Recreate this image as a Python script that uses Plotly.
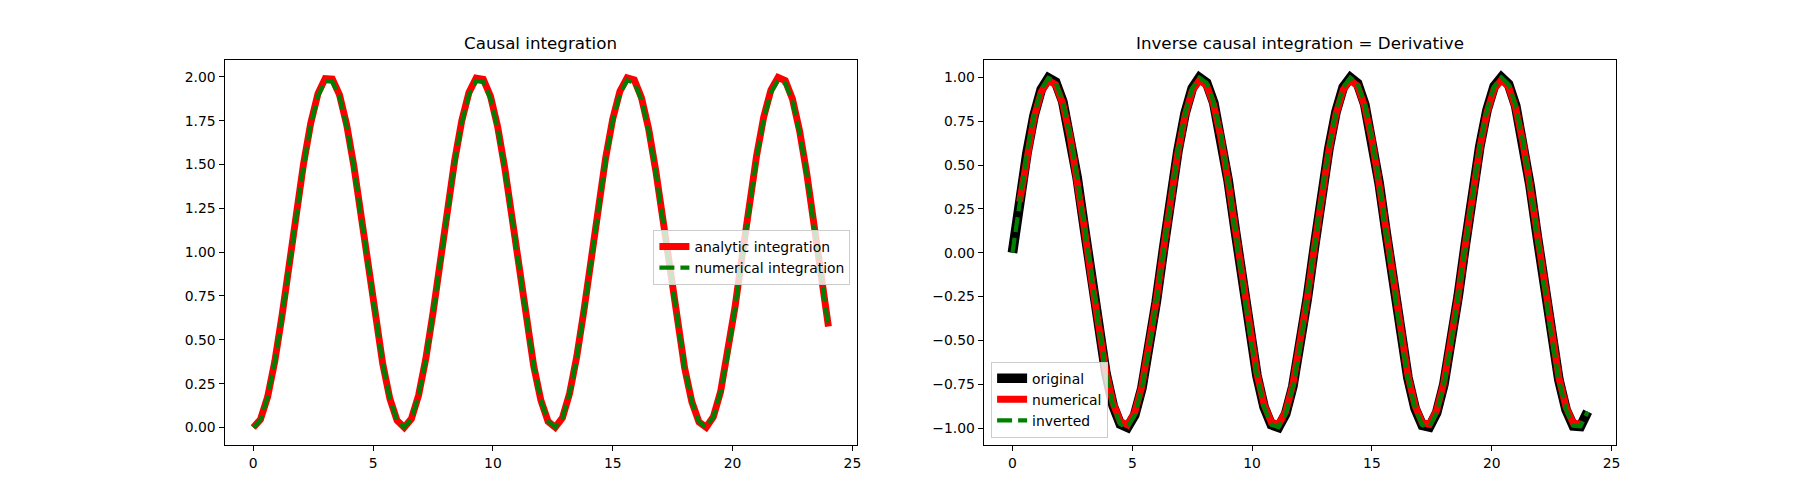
import plotly.graph_objects as go

# sample times
t = [0.0, 0.3, 0.6, 0.9, 1.2, 1.5, 1.8, 2.1, 2.4, 2.7, 3.0, 3.3, 3.6, 3.9, 4.2, 4.5, 4.8, 5.1, 5.4, 5.7,
     6.0, 6.3, 6.6, 6.9, 7.2, 7.5, 7.8, 8.1, 8.4, 8.7, 9.0, 9.3, 9.6, 9.9, 10.2, 10.5, 10.8, 11.1, 11.4, 11.7,
     12.0, 12.3, 12.6, 12.9, 13.2, 13.5, 13.8, 14.1, 14.4, 14.7, 15.0, 15.3, 15.6, 15.9, 16.2, 16.5, 16.8, 17.1,
     17.4, 17.7, 18.0, 18.3, 18.6, 18.9, 19.2, 19.5, 19.8, 20.1, 20.4, 20.7, 21.0, 21.3, 21.6, 21.9, 22.2, 22.5,
     22.8, 23.1, 23.4, 23.7, 24.0]

analytic_integration = [
    0.000, 0.045, 0.175, 0.378, 0.638, 0.929, 1.227, 1.505, 1.737, 1.904, 1.990, 1.987, 1.897, 1.726, 1.490,
    1.211, 0.912, 0.622, 0.365, 0.165, 0.040,
    0.000, 0.050, 0.184, 0.392, 0.653, 0.946, 1.244, 1.519, 1.749, 1.911, 1.992, 1.985, 1.889, 1.714, 1.476,
    1.194, 0.896, 0.607, 0.352, 0.156, 0.035,
    0.001, 0.055, 0.194, 0.405, 0.669, 0.963, 1.260, 1.534, 1.760, 1.918, 1.994, 1.982, 1.881, 1.702, 1.461,
    1.178, 0.879, 0.591, 0.340, 0.147, 0.031,
    0.001, 0.061, 0.204, 0.419, 0.685, 0.980, 1.276, 1.548, 1.771, 1.924, 1.996, 1.978, 1.873, 1.690, 1.446,
    1.161, 0.862, 0.576]

numerical_integration = [
    0.000, 0.045, 0.174, 0.375, 0.633, 0.922, 1.218, 1.494, 1.724, 1.890, 1.975, 1.972, 1.883, 1.713, 1.479,
    1.202, 0.905, 0.617, 0.362, 0.164, 0.040,
    0.000, 0.050, 0.183, 0.389, 0.648, 0.939, 1.235, 1.508, 1.736, 1.897, 1.977, 1.970, 1.875, 1.701, 1.465,
    1.185, 0.889, 0.602, 0.349, 0.155, 0.035,
    0.001, 0.055, 0.193, 0.402, 0.664, 0.956, 1.251, 1.522, 1.747, 1.904, 1.979, 1.967, 1.867, 1.689, 1.450,
    1.169, 0.872, 0.587, 0.337, 0.146, 0.031,
    0.001, 0.061, 0.202, 0.416, 0.680, 0.973, 1.266, 1.536, 1.758, 1.910, 1.981, 1.963, 1.859, 1.677, 1.435,
    1.152, 0.856, 0.572]

original = [
    0.000, 0.296, 0.565, 0.783, 0.932, 0.997, 0.974, 0.863, 0.675, 0.427, 0.141, -0.158, -0.443, -0.688,
    -0.872, -0.978, -0.996, -0.926, -0.773, -0.551, -0.279,
    0.017, 0.312, 0.578, 0.794, 0.938, 0.999, 0.970, 0.855, 0.663, 0.412, 0.124, -0.174, -0.458, -0.700,
    -0.880, -0.981, -0.995, -0.919, -0.762, -0.537, -0.263,
    0.034, 0.327, 0.592, 0.804, 0.944, 0.999, 0.966, 0.846, 0.650, 0.397, 0.108, -0.191, -0.472, -0.712,
    -0.888, -0.984, -0.993, -0.913, -0.751, -0.522, -0.247,
    0.050, 0.343, 0.606, 0.814, 0.949, 1.000, 0.961, 0.837, 0.637, 0.381, 0.091, -0.207, -0.487, -0.724,
    -0.895, -0.987, -0.990, -0.906]

# central differences: no value at the two end samples
numerical_derivative = [
    None, 0.291, 0.556, 0.772, 0.918, 0.983, 0.959, 0.850, 0.665, 0.421, 0.139, -0.155, -0.436, -0.678,
    -0.859, -0.963, -0.981, -0.912, -0.761, -0.542, -0.275,
    0.017, 0.307, 0.570, 0.782, 0.924, 0.984, 0.955, 0.842, 0.653, 0.406, 0.123, -0.172, -0.451, -0.689,
    -0.867, -0.966, -0.980, -0.906, -0.751, -0.529, -0.259,
    0.033, 0.323, 0.583, 0.792, 0.930, 0.984, 0.951, 0.833, 0.641, 0.391, 0.106, -0.188, -0.465, -0.701,
    -0.874, -0.969, -0.978, -0.899, -0.740, -0.515, -0.243,
    0.050, 0.338, 0.597, 0.802, 0.935, 0.985, 0.947, 0.824, 0.628, 0.376, 0.090, -0.204, -0.480, -0.713,
    -0.882, -0.972, -0.976, None]

inverted = [
    0.000, 0.296, 0.565, 0.783, 0.932, 0.997, 0.974, 0.863, 0.675, 0.427, 0.141, -0.158, -0.443, -0.688,
    -0.872, -0.978, -0.996, -0.926, -0.773, -0.551, -0.279,
    0.017, 0.312, 0.578, 0.794, 0.938, 0.999, 0.970, 0.855, 0.663, 0.412, 0.124, -0.174, -0.458, -0.700,
    -0.880, -0.981, -0.995, -0.919, -0.762, -0.537, -0.263,
    0.034, 0.327, 0.592, 0.804, 0.944, 0.999, 0.966, 0.846, 0.650, 0.397, 0.108, -0.191, -0.472, -0.712,
    -0.888, -0.984, -0.993, -0.913, -0.751, -0.522, -0.247,
    0.050, 0.343, 0.606, 0.814, 0.949, 1.000, 0.961, 0.837, 0.637, 0.381, 0.091, -0.207, -0.487, -0.724,
    -0.895, -0.987, -0.990, -0.906]

x_ticks = [0, 5, 10, 15, 20, 25]
left_y_ticks = [0.0, 0.25, 0.5, 0.75, 1.0, 1.25, 1.5, 1.75, 2.0]
right_y_ticks = [-1.0, -0.75, -0.5, -0.25, 0.0, 0.25, 0.5, 0.75, 1.0]
titles = ["Causal integration", "Inverse causal integration = Derivative"]

FONT = "DejaVu Sans"
RED = "#ff0000"
GREEN = "#008000"
BLACK = "#000000"
DASH = "15px,6px"

fig = go.Figure()

# left panel
fig.add_trace(go.Scatter(x=t, y=analytic_integration, mode="lines", name="analytic integration",
                         line=dict(color=RED, width=6.9), xaxis="x", yaxis="y", legend="legend"))
fig.add_trace(go.Scatter(x=t, y=numerical_integration, mode="lines", name="numerical integration",
                         line=dict(color=GREEN, width=4.2, dash=DASH), xaxis="x", yaxis="y", legend="legend"))

# right panel
fig.add_trace(go.Scatter(x=t, y=original, mode="lines", name="original",
                         line=dict(color=BLACK, width=9.7), xaxis="x2", yaxis="y2", legend="legend2"))
fig.add_trace(go.Scatter(x=t, y=numerical_derivative, mode="lines", name="numerical",
                         line=dict(color=RED, width=6.9), xaxis="x2", yaxis="y2", legend="legend2"))
fig.add_trace(go.Scatter(x=t, y=inverted, mode="lines", name="inverted",
                         line=dict(color=GREEN, width=4.2, dash=DASH), xaxis="x2", yaxis="y2", legend="legend2"))

W, H = 1800, 500
axL = (225 / W, 859.1 / W)
axR = (985.9 / W, 1620 / W)
yd = (0.11, 0.88)

common_axis = dict(showline=True, linecolor=BLACK, linewidth=1, mirror=True, ticks="outside",
                   ticklen=5, tickwidth=1, tickcolor=BLACK, showgrid=False, zeroline=False,
                   tickfont=dict(family=FONT, size=13.9, color=BLACK))

legend_common = dict(font=dict(family=FONT, size=13.9, color=BLACK), bgcolor="rgba(255,255,255,0.8)",
                     bordercolor="#cccccc", borderwidth=1, tracegroupgap=0, itemwidth=30)

fig.update_layout(
    width=W, height=H,
    margin=dict(l=0, r=0, t=0, b=0),
    paper_bgcolor="white", plot_bgcolor="white",
    font=dict(family=FONT, color=BLACK),
    showlegend=True,
    xaxis=dict(domain=list(axL), range=[-1.2, 25.2], tickvals=x_ticks, anchor="y", **common_axis),
    yaxis=dict(domain=list(yd), range=[-0.0998, 2.0958], tickvals=left_y_ticks, tickformat=".2f",
               anchor="x", **common_axis),
    xaxis2=dict(domain=list(axR), range=[-1.2, 25.2], tickvals=x_ticks, anchor="y2", **common_axis),
    yaxis2=dict(domain=list(yd), range=[-1.0965, 1.0996], tickvals=right_y_ticks, tickformat=".2f",
                anchor="x2", **common_axis),
    legend=dict(x=852.3 / W, xanchor="right", y=1 - 230 / H, yanchor="top", **legend_common),
    legend2=dict(x=993.3 / W, xanchor="left", y=1 - 437.7 / H, yanchor="bottom", **legend_common),
    annotations=[
        dict(text=titles[0], x=(axL[0] + axL[1]) / 2, y=0.88, xref="paper", yref="paper",
             xanchor="center", yanchor="bottom", yshift=5, showarrow=False,
             font=dict(family=FONT, size=16.7, color=BLACK)),
        dict(text=titles[1], x=(axR[0] + axR[1]) / 2, y=0.88, xref="paper", yref="paper",
             xanchor="center", yanchor="bottom", yshift=5, showarrow=False,
             font=dict(family=FONT, size=16.7, color=BLACK)),
    ],
)

fig.write_html("out.html", config={"displayModeBar": False})
